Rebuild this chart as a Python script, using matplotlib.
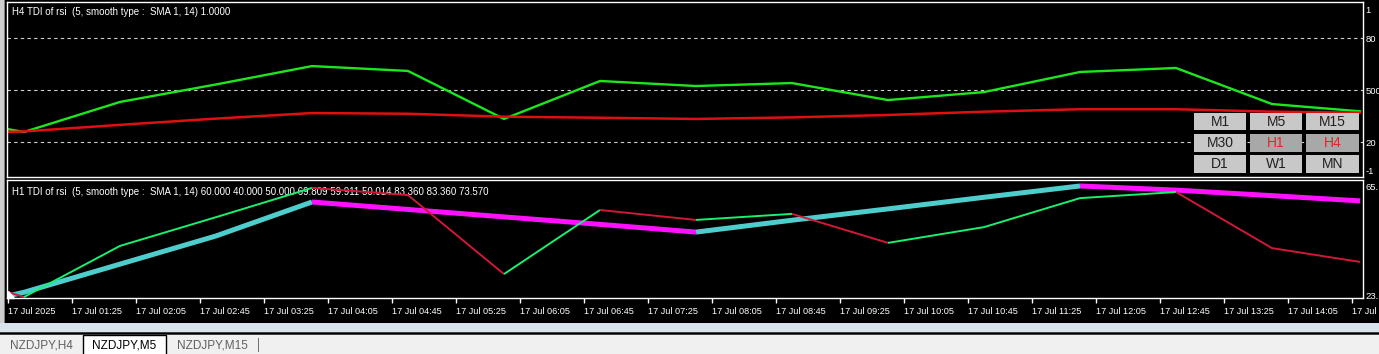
import matplotlib
matplotlib.use("Agg")
import matplotlib.pyplot as plt
from matplotlib.patches import Rectangle, Polygon

# M5 bar index (from 17 Jul 00:45), one vertex per H1 bar
bars = [0, 2, 14, 26, 38, 50, 62, 74, 86, 98, 110, 122, 134, 146, 158, 169]

# upper window: H4 TDI
h4_rsi = [27.4, 25.8, 43.1, 53.2, 63.8, 61.0, 33.3, 55.2, 52.3, 54.0, 44.2, 48.8, 60.4, 62.7, 41.9, 37.7]
h4_signal = [25.8, 26.1, 29.9, 33.5, 36.7, 36.3, 34.6, 34.0, 33.3, 34.2, 35.6, 37.5, 38.9, 38.9, 37.5, 36.9]

# lower window: H1 TDI
h1_rsi = [25.3, 23.5, 42.0, 52.4, 63.0, 60.4, 31.8, 55.0, 51.4, 53.6, 43.1, 48.8, 59.3, 61.5, 41.2, 36.2]
h1_signal = [23.9, 25.2, 35.4, 45.6, 57.9, 55.2, 52.5, 49.8, 47.0, 51.3, 55.4, 59.6, 63.7, 62.2, 60.2, 58.3]

tick_bars = [8 * k for k in range(22)]
tick_labels = ["17 Jul 2025", "17 Jul 01:25", "17 Jul 02:05", "17 Jul 02:45", "17 Jul 03:25",
               "17 Jul 04:05", "17 Jul 04:45", "17 Jul 05:25", "17 Jul 06:05", "17 Jul 06:45",
               "17 Jul 07:25", "17 Jul 08:05", "17 Jul 08:45", "17 Jul 09:25", "17 Jul 10:05",
               "17 Jul 10:45", "17 Jul 11:25", "17 Jul 12:05", "17 Jul 12:45", "17 Jul 13:25",
               "17 Jul 14:05", "17 Jul"]

levels = [80, 50, 20]
buttons = [["M1", "M5", "M15"], ["M30", "H1", "H4"], ["D1", "W1", "MN"]]
active_buttons = ["H1", "H4"]
tabs = ["NZDJPY,H4", "NZDJPY,M5", "NZDJPY,M15"]
active_tab = "NZDJPY,M5"

W, H = 1379, 354
FONT = ["Liberation Sans", "DejaVu Sans"]
plt.rcParams["font.family"] = FONT


def box(x0, y0, x1, y1):
    return [x0 / W, 1 - y1 / H, (x1 - x0) / W, (y1 - y0) / H]


def rect(x0, y0, x1, y1, **kw):
    fig.patches.append(Rectangle((x0 / W, 1 - y1 / H), (x1 - x0) / W, (y1 - y0) / H,
                                 transform=fig.transFigure, figure=fig, **kw))


def ftext(x, y, s, **kw):
    fig.text(x / W, 1 - y / H, s, **kw)


def runs(ax, xs, ys, up, down, lw):
    # split the line in rising / falling pieces
    i = 0
    while i < len(xs) - 1:
        rising = ys[i + 1] >= ys[i]
        j = i + 1
        while j < len(xs) - 1 and (ys[j + 1] >= ys[j]) == rising:
            j += 1
        ax.plot(xs[i:j + 1], ys[i:j + 1], color=up if rising else down, lw=lw,
                solid_joinstyle="miter", solid_capstyle="butt")
        i = j


fig = plt.figure(figsize=(W / 100, H / 100), dpi=100, facecolor="black")

# window chrome
rect(0, 0, 4, 333, color="#cfcfcf", lw=0)
rect(4, 0, 5, 333, color="#808080", lw=0)
rect(0, 323, W, 332, color="#dae2ec", lw=0)
rect(0, 332, W, 333, color="#404040", lw=0)
rect(0, 334, W, 335, color="#404040", lw=0)
rect(0, 335, W, H, color="#f0f0f0", lw=0)

ax1 = fig.add_axes(box(7, 2, 1363, 177))
ax2 = fig.add_axes(box(7, 180, 1363, 298))

for ax in (ax1, ax2):
    ax.set_facecolor("black")
    ax.set_xlim(-0.125, 169.375)
    for s in ax.spines.values():
        s.set_color("white")
        s.set_linewidth(1)
    ax.yaxis.tick_right()
    ax.tick_params(axis="y", length=0, pad=2, colors="white", labelsize=6.8)

# upper window
ax1.set_ylim(-0.19, 100.77)
for lv in levels:
    ax1.axhline(lv, color="#d0d0d0", lw=0.8, ls=(0, (3, 3)))
ax1.plot(bars, h4_rsi, color="#1ee61e", lw=1.7)
ax1.plot(bars, h4_signal, color="#e01010", lw=1.8)
ax1.set_xticks([])
ax1.set_yticks([96.7, 80, 50, 20, 3.8])
ax1.set_yticklabels(["1", "80", "500", "20", "-1"])
ax1.text(0.004, 0.945, "H4 TDI of rsi  (5, smooth type :  SMA 1, 14) 1.0000",
         transform=ax1.transAxes, color="white", fontsize=7, va="center")

# lower window
ax2.set_ylim(23.14, 65.86)
runs(ax2, bars, h1_signal, "#4ecdcd", "#ff10ff", 3.6)
runs(ax2, bars, h1_rsi, "#18f070", "#d01838", 1.4)
ax2.set_yticks([63.4, 24.2])
ax2.set_yticklabels(["65.", "23."])
ax2.set_xticks(tick_bars)
ax2.set_xticklabels(tick_labels)
ax2.tick_params(axis="x", direction="out", length=3.6, width=1, colors="white",
                labelsize=6.6, pad=3)
for lab in ax2.get_xticklabels():
    lab.set_horizontalalignment("left")
ax2.text(0.004, 0.9, "H1 TDI of rsi  (5, smooth type :  SMA 1, 14) 60.000 40.000 50.000 "
         "69.809 59.911 50.014 83.360 83.360 73.570",
         transform=ax2.transAxes, color="white", fontsize=7, va="center", zorder=1)
fig.patches.append(Polygon([(8 / W, 1 - 291 / H), (8 / W, 1 - 298 / H), (14 / W, 1 - 298 / H)],
                           closed=True, color="white", transform=fig.transFigure, figure=fig))

# timeframe buttons
col_x = [(1194, 1246), (1250, 1302), (1306, 1359)]
row_y = [(113, 130), (134, 152), (155, 173)]
for r, row in enumerate(buttons):
    for c, name in enumerate(row):
        x0, x1 = col_x[c]
        y0, y1 = row_y[r]
        on = name in active_buttons
        rect(x0, y0, x1, y1, color="#a8a8a8" if on else "#c8c8c8", lw=0, zorder=5)
        ftext((x0 + x1) / 2, (y0 + y1) / 2 + 0.5, name, color="#f01e28" if on else "#202020",
              fontsize=10, ha="center", va="center", zorder=6)

# chart tabs
tab_x = [(0, 82), (83, 166), (167, 258)]
for (x0, x1), name in zip(tab_x, tabs):
    if name == active_tab:
        rect(x0, 335, x1, H + 1, facecolor="white", edgecolor="black", lw=1)
    ftext((x0 + x1) / 2, 345, name, color="black" if name == active_tab else "#606060",
          fontsize=8.5, ha="center", va="center")
rect(258, 338, 259, 352, color="#707070", lw=0)

fig.savefig("out.png", dpi=100, facecolor=fig.get_facecolor())
